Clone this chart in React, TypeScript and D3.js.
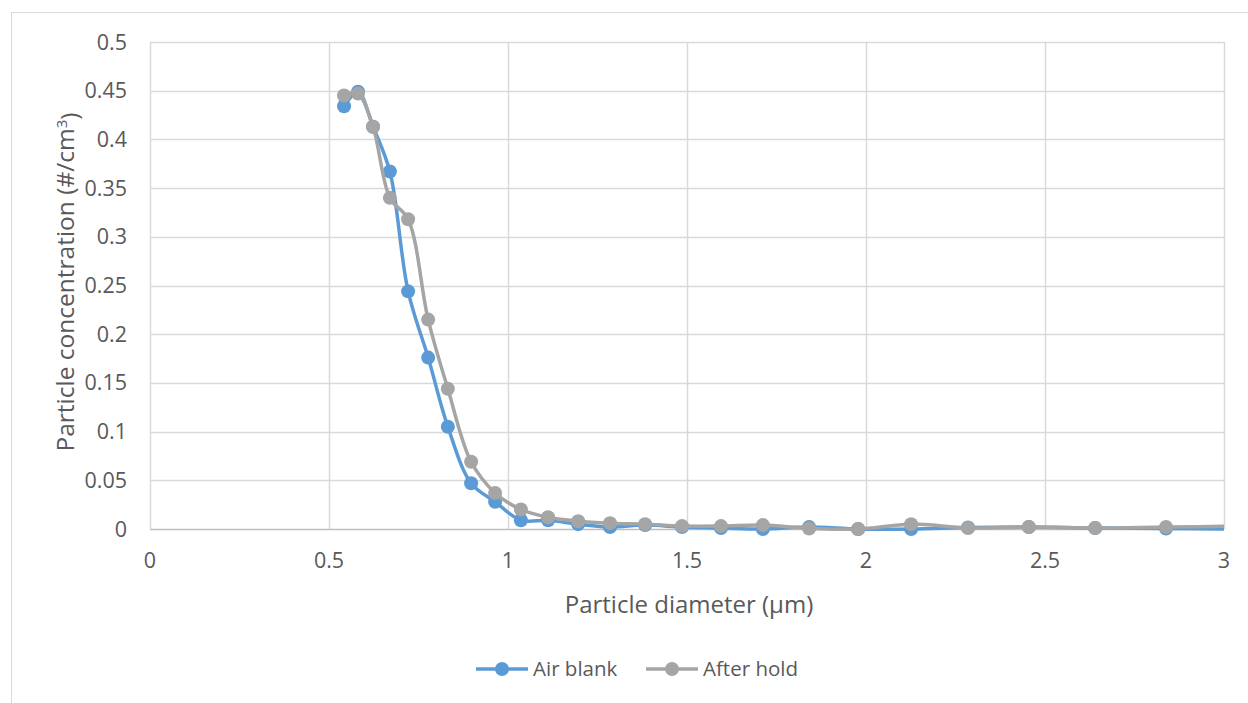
import React, { useEffect, useRef } from "react";
import * as d3 from "d3";

// particle diameter bins (µm)
const diameters = [0.542, 0.581, 0.623, 0.670, 0.721, 0.777, 0.832, 0.897, 0.964, 1.036, 1.112, 1.196, 1.285, 1.383, 1.486, 1.595, 1.712, 1.841, 1.978, 2.126, 2.285, 2.455, 2.640, 2.838, 3.05];
const airBlank = [0.434, 0.449, 0.413, 0.367, 0.244, 0.176, 0.105, 0.047, 0.028, 0.009, 0.009, 0.005, 0.002, 0.004, 0.002, 0.001, 0.0, 0.002, 0.0, 0.0, 0.0015, 0.002, 0.001, 0.0005, 0.0];
const afterHold = [0.445, 0.447, 0.413, 0.340, 0.318, 0.215, 0.144, 0.069, 0.037, 0.020, 0.012, 0.008, 0.006, 0.005, 0.003, 0.003, 0.004, 0.0005, 0.0, 0.005, 0.001, 0.002, 0.001, 0.002, 0.003];
const seriesNames = ["Air blank", "After hold"];
const seriesColors = ["#5B9BD5", "#A5A5A5"];
const xTicks = [0, 0.5, 1, 1.5, 2, 2.5, 3];
const yTicks = [0, 0.05, 0.1, 0.15, 0.2, 0.25, 0.3, 0.35, 0.4, 0.45, 0.5];

export default function App() {
  const ref = useRef<SVGSVGElement>(null);

  useEffect(() => {
    const width = 1248;
    const height = 703;
    const margin = { top: 42, right: 24, bottom: 174, left: 150 };
    const innerWidth = width - margin.left - margin.right;
    const innerHeight = height - margin.top - margin.bottom;
    const font = "'Open Sans', sans-serif";
    const textColor = "#595959";

    const svg = d3.select(ref.current);
    svg.selectAll("*").remove();

    // chart border
    svg.append("rect")
      .attr("x", 11.5).attr("y", 12.5)
      .attr("width", width).attr("height", height)
      .attr("fill", "#fff").attr("stroke", "#D9D9D9");

    const g = svg.append("g").attr("transform", `translate(${margin.left}, ${margin.top})`);

    const x = d3.scaleLinear().domain([0, 3]).range([0, innerWidth]);
    const y = d3.scaleLinear().domain([0, 0.5]).range([innerHeight, 0]);

    // gridlines
    g.append("g").selectAll("line").data(yTicks.slice(1)).enter()
      .append("line")
      .attr("x1", 0).attr("x2", innerWidth)
      .attr("y1", d => Math.round(y(d)) + 0.5).attr("y2", d => Math.round(y(d)) + 0.5)
      .attr("stroke", "#D9D9D9").attr("stroke-width", 1.5);
    g.append("g").selectAll("line").data(xTicks).enter()
      .append("line")
      .attr("x1", d => Math.round(x(d)) + 0.5).attr("x2", d => Math.round(x(d)) + 0.5)
      .attr("y1", 0).attr("y2", innerHeight)
      .attr("stroke", "#D9D9D9").attr("stroke-width", 1.5);

    // x axis line
    g.append("line")
      .attr("x1", 0).attr("x2", innerWidth)
      .attr("y1", innerHeight + 0.5).attr("y2", innerHeight + 0.5)
      .attr("stroke", "#BFBFBF").attr("stroke-width", 1.5);

    // tick labels
    g.append("g").selectAll("text").data(yTicks).enter()
      .append("text")
      .attr("x", -23).attr("y", d => y(d))
      .attr("dy", "0.35em")
      .attr("text-anchor", "end")
      .style("font-family", font).style("font-size", "21.5px").attr("fill", textColor)
      .text(d => d3.format("")(d));
    g.append("g").selectAll("text").data(xTicks).enter()
      .append("text")
      .attr("x", d => x(d)).attr("y", innerHeight + 39)
      .attr("text-anchor", "middle")
      .style("font-family", font).style("font-size", "21.5px").attr("fill", textColor)
      .text(d => d3.format("")(d));

    // axis titles
    g.append("text")
      .attr("x", innerWidth / 2 + 2).attr("y", innerHeight + 84)
      .attr("text-anchor", "middle")
      .style("font-family", font).style("font-size", "24px").attr("fill", textColor)
      .text("Particle diameter (µm)");
    const yt = svg.append("text")
      .attr("transform", `translate(74, 282) rotate(-90)`)
      .attr("text-anchor", "middle")
      .style("font-family", font).style("font-size", "24.5px").attr("fill", textColor);
    yt.append("tspan").text("Particle concentration (#/cm");
    yt.append("tspan").attr("dy", "-0.45em").style("font-size", "15px").text("3");
    yt.append("tspan").attr("dy", "0.45em").text(")");

    // clip for the bin beyond 3 µm
    svg.append("clipPath").attr("id", "plotclip")
      .append("rect").attr("x", 0).attr("y", -20).attr("width", innerWidth).attr("height", innerHeight + 40);

    const allSeries = [airBlank, afterHold];
    const line = d3.line<number>()
      .x((d, i) => x(diameters[i]))
      .y(d => y(d))
      .curve(d3.curveCatmullRom.alpha(0.5));

    const plot = g.append("g").attr("clip-path", "url(#plotclip)");
    allSeries.forEach((vals, s) => {
      plot.append("path")
        .datum(vals)
        .attr("d", line)
        .attr("fill", "none")
        .attr("stroke", seriesColors[s])
        .attr("stroke-width", 3.5)
        .attr("stroke-linejoin", "round");
      plot.append("g").selectAll("circle").data(vals.filter((v, i) => diameters[i] <= 3)).enter()
        .append("circle")
        .attr("cx", (d, i) => x(diameters[i]))
        .attr("cy", d => y(d))
        .attr("r", 7)
        .attr("fill", seriesColors[s]);
    });

    // legend
    const legendX = [476, 646];
    const legendY = 669;
    seriesNames.forEach((name, s) => {
      const lg = svg.append("g").attr("transform", `translate(${legendX[s]}, ${legendY})`);
      lg.append("line").attr("x1", 0).attr("x2", 52).attr("y1", 0).attr("y2", 0)
        .attr("stroke", seriesColors[s]).attr("stroke-width", 3.5);
      lg.append("circle").attr("cx", 26).attr("cy", 0).attr("r", 7).attr("fill", seriesColors[s]);
      lg.append("text").attr("x", 57).attr("y", 0).attr("dy", "0.35em")
        .style("font-family", font).style("font-size", "20.5px").attr("fill", textColor)
        .text(name);
    });
  }, []);

  return (
    <svg ref={ref} width={1248} height={703}
      style={{ position: "absolute", left: 0, top: 0, display: "block" }} />
  );
}
